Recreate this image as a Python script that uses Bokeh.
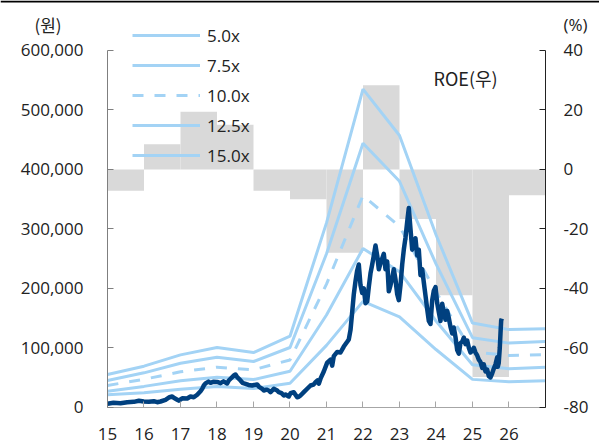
from bokeh.plotting import figure
from bokeh.models import (Range1d, LinearAxis, FixedTicker, NumeralTickFormatter,
                          Legend, LegendItem, Label, Span)
from bokeh.embed import file_html
from bokeh.resources import INLINE

# ---------------- data ----------------
roe_years = [15, 16, 17, 18, 19, 20, 21, 22, 23, 24, 25, 26]
roe = [-7.2, 8.5, 19.4, 15.0, -7.2, -10.0, -28.0, 28.3, -16.7, -42.3, -69.8, -8.7]

band_x = [15, 16, 17, 18, 19, 20, 21, 22, 23, 24, 25, 26, 27]
band_15 = [55000, 69000, 88000, 100400, 92000, 119400, 310000, 535000, 457000, 290000, 141500, 130500, 132000]
band_125 = [45000, 57800, 74000, 84000, 76900, 100400, 258000, 444000, 380000, 241000, 117000, 107800, 110500]
band_10 = [36500, 47000, 59500, 67300, 63000, 79500, 207000, 356000, 304000, 194000, 93000, 87000, 88200]
band_75 = [27000, 35000, 44500, 50500, 46500, 60500, 155000, 267000, 228000, 145000, 71500, 64800, 67000]
band_5 = [21000, 24500, 30000, 35000, 31500, 40400, 104000, 178000, 152000, 97000, 46800, 43000, 44400]

price_t = [15.000, 15.164, 15.356, 15.540, 15.721, 15.858, 15.995, 16.132, 16.268, 16.362,
           16.452, 16.589, 16.699, 16.773, 16.816, 16.910, 16.953, 17.047, 17.184, 17.274,
           17.364, 17.458, 17.548, 17.595, 17.638, 17.685, 17.767, 17.822, 17.912, 18.005,
           18.096, 18.178, 18.279, 18.323, 18.416, 18.460, 18.507, 18.553, 18.644, 18.699,
           18.781, 18.863, 18.964, 19.027, 19.101, 19.145, 19.238, 19.282, 19.356, 19.419,
           19.466, 19.556, 19.649, 19.693, 19.767, 19.830, 19.877, 19.967, 20.014, 20.104,
           20.197, 20.241, 20.288, 20.378, 20.471, 20.562, 20.644, 20.699, 20.753, 20.789,
           20.836, 20.926, 21.019, 21.110, 21.156, 21.200, 21.293, 21.384, 21.474, 21.567,
           21.611, 21.658, 21.704, 21.748, 21.795, 21.841, 21.885, 21.932, 21.978, 22.022,
           22.068, 22.115, 22.159, 22.205, 22.252, 22.296, 22.342, 22.389, 22.433, 22.479,
           22.526, 22.570, 22.616, 22.663, 22.707, 22.753, 22.800, 22.844, 22.890, 22.937,
           22.981, 23.027, 23.074, 23.118, 23.164, 23.211, 23.255, 23.301, 23.348, 23.392,
           23.438, 23.485, 23.529, 23.575, 23.622, 23.666, 23.712, 23.759, 23.803, 23.849,
           23.896, 23.940, 23.986, 24.033, 24.077, 24.123, 24.170, 24.214, 24.260, 24.307,
           24.351, 24.397, 24.444, 24.488, 24.534, 24.581, 24.625, 24.671, 24.718, 24.762,
           24.808, 24.855, 24.899, 24.945, 24.992, 25.036, 25.082, 25.129, 25.173, 25.219,
           25.266, 25.310, 25.356, 25.403, 25.447, 25.493, 25.540, 25.584, 25.630, 25.677,
           25.693, 25.718, 25.748, 25.767, 25.786, 25.803]
price_v = [5700, 7500, 6700, 8400, 9000, 10800, 9600, 9100, 10100, 8400,
           9600, 12400, 16800, 18000, 15800, 12500, 11000, 15000, 14600, 18000,
           16800, 21000, 26900, 31000, 36500, 40000, 43000, 41000, 43000, 42500,
           40500, 43500, 40000, 44900, 50500, 53300, 55000, 50500, 45000, 41000,
           39400, 37500, 36500, 37500, 38200, 34800, 31000, 28100, 29500, 28100,
           25200, 31000, 28100, 25200, 23500, 19700, 21400, 18000, 23500, 25200,
           16800, 17500, 19700, 25200, 31000, 36500, 38000, 42000, 44900, 39400,
           48000, 60000, 75000, 80000, 70000, 86000, 93000, 92000, 102000, 110000,
           114000, 130000, 160000, 190000, 212000, 230000, 240000, 205000, 192000, 200000,
           175000, 178000, 202000, 225000, 240000, 255000, 272000, 255000, 232000, 242000,
           250000, 258000, 232000, 245000, 195000, 205000, 218000, 232000, 215000, 190000,
           180000, 205000, 240000, 265000, 285000, 312000, 335000, 300000, 265000, 278000,
           284000, 255000, 265000, 222000, 232000, 210000, 188000, 165000, 145000, 140000,
           180000, 196000, 202000, 175000, 160000, 145000, 174000, 160000, 147000, 162000,
           150000, 135000, 124000, 134000, 118000, 96000, 90000, 108000, 110000, 117000,
           106000, 112000, 100000, 92000, 95000, 100000, 92000, 87000, 80000, 76000,
           66000, 72000, 60000, 63000, 52000, 50000, 57000, 65000, 72000, 84000,
           68000, 74000, 100000, 124000, 146000, 149000]

x_ticks = [15, 16, 17, 18, 19, 20, 21, 22, 23, 24, 25, 26, 27]
x_tick_labels = {27: ""}
left_ticks = [0, 100000, 200000, 300000, 400000, 500000, 600000]
right_ticks = [-80, -60, -40, -20, 0, 20, 40]
right_tick_labels = {t: str(t) for t in right_ticks}   # plain hyphen minus signs
x_bounds = (15, 27)
left_bounds = (0, 600000)
right_bounds = (-80, 40)

# ---------------- style ----------------
BAR = "#d9d9d9"
BAND = "#a3d3f5"
PRICE = "#00407f"
FONT = "Open Sans"
KFONT = "Noto Sans CJK KR"
FS = "17px"
TXT = "#222222"

# The frame fills the whole picture; the axes are pinned (fixed_location) to the
# edges of the data area, so captions outside the data area are not clipped.
# data area: x 107..545 px, y 50..406.7 px of a 599x446 picture
Y_TOP = 684104
PX = 1682  # value units per pixel on the left scale
p = figure(width=599, height=446,
           x_range=Range1d(12.0685, 28.4795), y_range=Range1d(-66106, Y_TOP),
           output_backend="svg", toolbar_location=None, title=None,
           min_border=0, min_border_left=0, min_border_right=0,
           min_border_top=0, min_border_bottom=0)
p.extra_y_ranges = {"roe": Range1d(-93.22, 56.82)}
p.outline_line_color = None
p.xgrid.visible = False
p.ygrid.visible = False
p.background_fill_color = "white"
p.border_fill_color = "white"

# thin rule along the top edge of the picture
p.add_layout(Span(location=Y_TOP - PX, dimension="width", line_color="#000000", line_width=2))

# bars (ROE, right axis)
p.vbar(x=[y + 0.5 for y in roe_years], width=1.0, top=roe, bottom=0,
       y_range_name="roe", fill_color=BAR, line_color=None)

# bands
r5 = p.line(band_x, band_5, line_color=BAND, line_width=3)
r75 = p.line(band_x, band_75, line_color=BAND, line_width=3)
r10 = p.line(band_x, band_10, line_color=BAND, line_width=3, line_dash="11 11")
r125 = p.line(band_x, band_125, line_color=BAND, line_width=3)
r15 = p.line(band_x, band_15, line_color=BAND, line_width=3)

# price
p.line(price_t, price_v, line_color=PRICE, line_width=4.5, line_join="round")

# axes
xa = p.xaxis[0]
xa.fixed_location = 0
xa.bounds = x_bounds
xa.ticker = FixedTicker(ticks=x_ticks)
xa.major_label_overrides = x_tick_labels
xa.major_tick_in = 6
xa.major_tick_out = 0
xa.minor_tick_line_color = None
xa.axis_line_color = "#a6a6a6"
xa.major_tick_line_color = "#a6a6a6"
xa.major_label_standoff = 21
xa.major_label_text_font = FONT
xa.major_label_text_font_size = FS
xa.major_label_text_color = TXT

ya = p.yaxis[0]
ya.fixed_location = 15
ya.bounds = left_bounds
ya.ticker = FixedTicker(ticks=left_ticks)
ya.formatter = NumeralTickFormatter(format="0,0")
ya.major_tick_in = 6
ya.major_tick_out = 0
ya.minor_tick_line_color = None
ya.axis_line_color = "#7f7f7f"
ya.major_tick_line_color = "#7f7f7f"
ya.major_label_standoff = 24
ya.major_label_text_font = FONT
ya.major_label_text_font_size = FS
ya.major_label_text_color = TXT

ra = LinearAxis(y_range_name="roe", ticker=FixedTicker(ticks=right_ticks),
                bounds=right_bounds, fixed_location=27)
ra.major_label_overrides = right_tick_labels
ra.major_tick_in = 6
ra.major_tick_out = 0
ra.minor_tick_line_color = None
ra.axis_line_color = "#222222"
ra.major_tick_line_color = "#222222"
ra.major_label_standoff = 18
ra.major_label_text_font = FONT
ra.major_label_text_font_size = FS
ra.major_label_text_color = TXT
p.add_layout(ra, "right")

# band legend (top-left)
legend = Legend(items=[LegendItem(label="5.0x", renderers=[r5]),
                       LegendItem(label="7.5x", renderers=[r75]),
                       LegendItem(label="10.0x", renderers=[r10]),
                       LegendItem(label="12.5x", renderers=[r125]),
                       LegendItem(label="15.0x", renderers=[r15])],
                location=(132, 276), orientation="vertical",
                background_fill_alpha=0, border_line_alpha=0,
                glyph_width=68, glyph_height=30, label_height=30, spacing=0,
                padding=0, margin=0, label_standoff=7,
                label_text_font=FONT, label_text_font_size=FS,
                label_text_color=TXT, label_text_baseline="middle")
p.add_layout(legend)

# captions
p.add_layout(Label(x=47.5, y=23.5, x_units="canvas", y_units="canvas", text="(원)",
                   text_align="center", text_baseline="middle",
                   text_font=KFONT, text_font_size=FS, text_color=TXT))
p.add_layout(Label(x=575, y=23.5, x_units="canvas", y_units="canvas", text="(%)",
                   text_align="center", text_baseline="middle",
                   text_font=FONT, text_font_size=FS, text_color=TXT))
p.add_layout(Label(x=433, y=77.5, x_units="canvas", y_units="canvas", text="ROE(우)",
                   text_align="left", text_baseline="middle",
                   text_font=KFONT, text_font_size="18px", text_color=TXT))

open("out.html", "w").write(file_html(p, INLINE))
